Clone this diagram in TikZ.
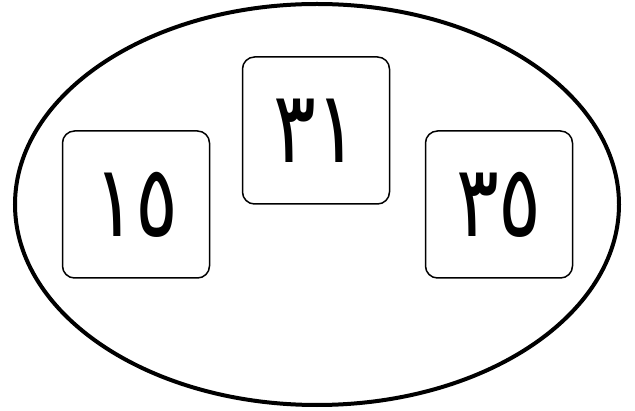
\documentclass[tikz,border=0pt]{standalone}
\usepackage{fontspec}
\usetikzlibrary{shapes.geometric}
\newfontfamily\digfont{DejaVu Sans}
\newcommand{\digs}[1]{\scalebox{0.8}[1]{#1}}
\tikzset{
  numbox/.style={draw=black, line width=1.5pt, rounded corners=12pt, minimum width=147pt, minimum height=147pt, inner sep=0pt, font=\digfont\fontsize{100}{110}\selectfont},
  outer/.style={draw=black, line width=4pt}
}
\begin{document}
\begin{tikzpicture}[x=1pt,y=1pt]
\useasboundingbox (0,0) rectangle (635,410);
\node[outer, ellipse, minimum width=604pt, minimum height=401pt] (oval) at (317,205.5) {};
\node[numbox] (b15) at (136,205.5) {\digs{١٥}};
\node[numbox] (b31) at (316,279.5) {\digs{٣١}};
\node[numbox] (b35) at (499,205.5) {\digs{٣٥}};
\end{tikzpicture}
\end{document}
